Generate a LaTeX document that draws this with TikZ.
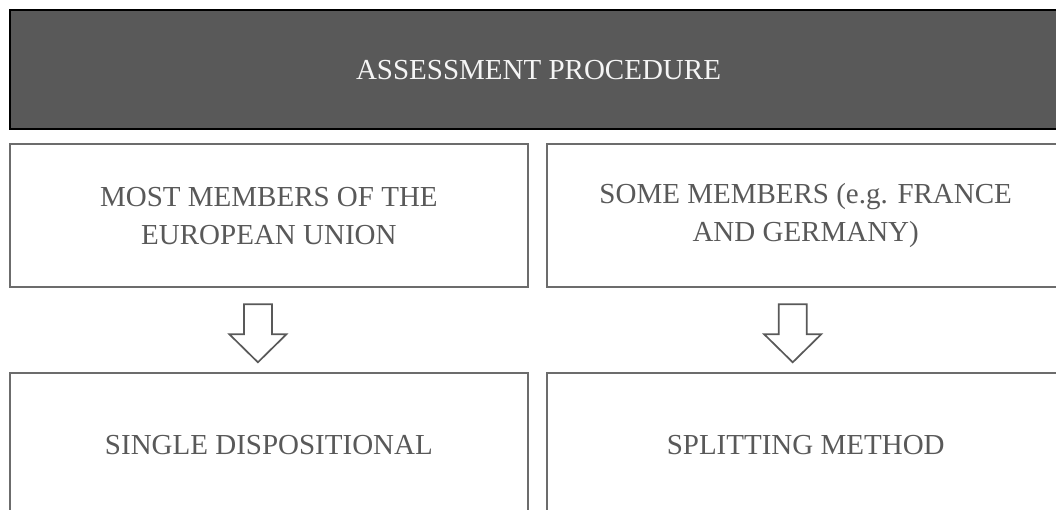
\documentclass[tikz,border=0pt]{standalone}
\usepackage{fontspec}
\setmainfont{Liberation Serif}
\usepackage{xcolor}
\usepackage{tikz}
\usetikzlibrary{positioning,calc}
\definecolor{darkgrey}{RGB}{89,89,89}
\definecolor{framegrey}{RGB}{108,108,108}
\definecolor{textgrey}{RGB}{89,89,89}
\definecolor{offwhite}{RGB}{245,245,245}
\tikzset{
  headbox/.style={draw=black, line width=2pt, fill=darkgrey, text=offwhite,
    minimum width=1057pt, minimum height=119.5pt, align=center, inner sep=0pt,
    font=\fontsize{29}{38}\selectfont},
  stagebox/.style={draw=framegrey, line width=1.8pt, fill=white, text=textgrey,
    minimum width=518pt, minimum height=143pt, align=center, inner sep=0pt,
    font=\fontsize{29}{38}\selectfont},
  blockarrow/.style={draw=darkgrey, line width=1.7pt, fill=white, line join=miter},
  downarrow/.pic={\path[blockarrow] (-14,0) -- (14,0) -- (14,-30) -- (28.5,-30)
    -- (0,-58) -- (-28.5,-30) -- (-14,-30) -- cycle;}
}

\begin{document}
\begin{tikzpicture}[x=1pt, y=1pt, node distance=13pt and 17pt]
\useasboundingbox (0,0) rectangle (1056,-510);
\node[headbox] (proc) at (538.5,-69.75) {ASSESSMENT PROCEDURE};
\node[stagebox, below=of proc.south west, anchor=north west] (most) {MOST MEMBERS OF THE\\EUROPEAN UNION};
\node[stagebox, right=of most] (some) {SOME MEMBERS (e.g. FRANCE\\AND GERMANY)};
\node[stagebox, below=84pt of most] (single) {SINGLE DISPOSITIONAL};
\node[stagebox, below=84pt of some] (split) {SPLITTING METHOD};

\coordinate (a1) at ($(most.south)+(-11,-16)$);
\coordinate (a2) at ($(some.south)+(-13,-16)$);
\pic at (a1) {downarrow};
\pic at (a2) {downarrow};
\end{tikzpicture}
\end{document}
